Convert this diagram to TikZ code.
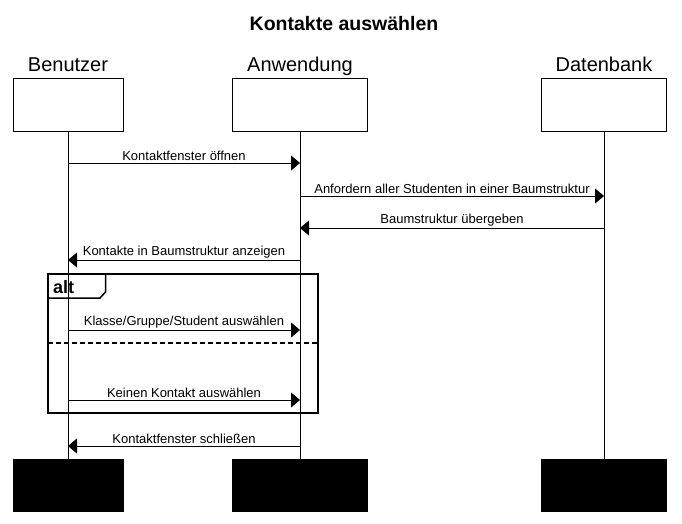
\documentclass[tikz,border=0pt]{standalone}
\usepackage{fontspec}
\setmainfont{Liberation Sans}
\usetikzlibrary{arrows.meta}
\tikzset{>={Triangle[length=9pt,width=15pt]}}
\tikzset{
    teilnehmer/.style={draw, line width=1pt, minimum width=#1, minimum height=52pt, inner sep=0pt},
    tname/.style={anchor=base, font=\fontsize{20}{24}\selectfont},
    nachricht/.style={->, line width=0.8pt},
    beschriftung/.style={midway, above, inner sep=1.5pt, font=\fontsize{13}{15}\selectfont}
}

\begin{document}
\begin{tikzpicture}[x=1pt,y=-1pt]
        \useasboundingbox (0,0) rectangle (682,524);
        \node[anchor=base, font=\fontsize{19.5}{23}\selectfont\bfseries] (titel) at (344,31) {Kontakte auswählen};

        % Teilnehmer oben
        \node[teilnehmer=110pt] (ben) at (68,105) {};
        \node[teilnehmer=135pt] (anw) at (300,105) {};
        \node[teilnehmer=125pt] (dat) at (604,105) {};
        \node[tname] (benname) at (68,72) {Benutzer};
        \node[tname] (anwname) at (300,72) {Anwendung};
        \node[tname] (datname) at (604,72) {Datenbank};

        % Teilnehmer unten
        \node[teilnehmer=110pt, fill=black] (benende) at (68,485.5) {};
        \node[teilnehmer=135pt, fill=black] (anwende) at (300,485.5) {};
        \node[teilnehmer=125pt, fill=black] (datende) at (604,485.5) {};

        % Lebenslinien
        \foreach \t in {ben,anw,dat}
        \draw[line width=1pt] (\t) -- (\t ende);

        % Nachrichten
        \draw[nachricht] (ben |- 0,163) -- (anw |- 0,163) node[beschriftung] {Kontaktfenster öffnen};
        \draw[nachricht] (anw |- 0,196) -- (dat |- 0,196) node[beschriftung] {Anfordern aller Studenten in einer Baumstruktur};
        \draw[nachricht] (dat |- 0,228) -- (anw |- 0,228) node[beschriftung] {Baumstruktur übergeben};
        \draw[nachricht] (anw |- 0,260) -- (ben |- 0,260) node[beschriftung] {Kontakte in Baumstruktur anzeigen};

        % alt
        \draw[line width=1.5pt] (48,274) rectangle (318,413);
        \draw[line width=1.5pt] (48,298) -- (100,298) -- (105.5,292) -- (105.5,274);
        \node[anchor=base west, inner sep=0pt, font=\fontsize{18}{20}\selectfont\bfseries] (alt) at (53,293) {alt};
        \draw[line width=1.5pt, dash pattern=on 5pt off 3pt] (48,343) -- (318,343);

        \draw[nachricht] (ben |- 0,330) -- (anw |- 0,330) node[beschriftung] {Klasse/Gruppe/Student auswählen};
        \draw[nachricht] (ben |- 0,400) -- (anw |- 0,400) node[beschriftung] {Keinen Kontakt auswählen};
        \draw[nachricht] (anw |- 0,446) -- (ben |- 0,446) node[beschriftung] {Kontaktfenster schließen};
    \end{tikzpicture}
\end{document}
